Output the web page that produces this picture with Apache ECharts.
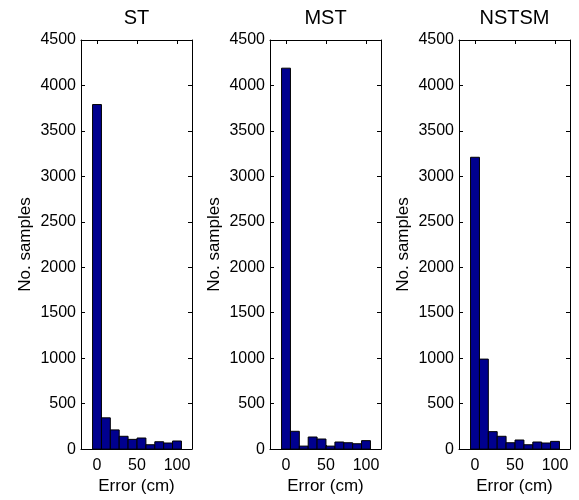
<!DOCTYPE html>
<html>
<head>
<meta charset="utf-8">
<script src="https://cdn.jsdelivr.net/npm/echarts@6/dist/echarts.min.js"></script>
<style>html,body{margin:0;padding:0;background:#fff}#c{width:579px;height:500px}</style>
</head>
<body>
<div id="c"></div>
<script>
const binCenters = [0, 11.1, 22.2, 33.3, 44.4, 55.6, 66.7, 77.8, 88.9, 100];
const binWidth = 11.1;
const stCounts = [3790, 344, 211, 141, 107, 122, 48, 81, 67, 89];
const mstCounts = [4190, 196, 33, 133, 111, 33, 78, 70, 59, 93];
const nstsmCounts = [3210, 990, 192, 141, 70, 100, 48, 78, 67, 85];
const panelTitles = ['ST', 'MST', 'NSTSM'];
const xTickValues = [0, 50, 100];
const yMax = 4500, yInterval = 500;
const xLabel = 'Error (cm)';
const yLabel = 'No. samples';

const panels = [stCounts, mstCounts, nstsmCounts];
const FONT = 'Liberation Sans, Arial, Helvetica, sans-serif';
const gridLefts = [81, 270, 459];
const gridW = 111, gridTop = 40, gridH = 410;
const xMin = -20, xMax = 118.75;

const grids = [], xAxes = [], yAxes = [], series = [], graphics = [];
panels.forEach((counts, i) => {
  grids.push({left: gridLefts[i], top: gridTop, width: gridW, height: gridH, containLabel: false});
  const line = {show: true, onZero: false, lineStyle: {color: '#000', width: 1}};
  xAxes.push({
    type: 'value', gridIndex: i, position: 'bottom', min: xMin, max: xMax,
    axisLine: line, splitLine: {show: false},
    axisTick: {show: true, inside: true, length: 4, customValues: xTickValues, lineStyle: {color: '#000'}},
    axisLabel: {show: true, customValues: xTickValues, color: '#000', fontSize: 16, fontFamily: FONT, margin: 8,
      formatter: v => String(v)},
    name: xLabel, nameLocation: 'middle', nameGap: 25,
    nameTextStyle: {color: '#000', fontSize: 17, fontFamily: FONT}
  });
  xAxes.push({
    type: 'value', gridIndex: i, position: 'top', min: xMin, max: xMax,
    axisLine: line, splitLine: {show: false},
    axisTick: {show: true, inside: true, length: 4, customValues: xTickValues, lineStyle: {color: '#000'}},
    axisLabel: {show: false}
  });
  yAxes.push({
    type: 'value', gridIndex: i, position: 'left', min: 0, max: yMax, interval: yInterval,
    axisLine: line, splitLine: {show: false},
    axisTick: {show: true, inside: true, length: 4, lineStyle: {color: '#000'}},
    axisLabel: {color: '#000', fontSize: 16, fontFamily: FONT, margin: 5, formatter: v => String(v)},
    name: yLabel, nameLocation: 'middle', nameGap: 47, nameRotate: 90,
    nameTextStyle: {color: '#000', fontSize: 17, fontFamily: FONT}
  });
  yAxes.push({
    type: 'value', gridIndex: i, position: 'right', min: 0, max: yMax, interval: yInterval,
    axisLine: line, splitLine: {show: false},
    axisTick: {show: true, inside: true, length: 4, lineStyle: {color: '#000'}},
    axisLabel: {show: false}
  });
  series.push({
    type: 'custom', xAxisIndex: i * 2, yAxisIndex: i * 2,
    data: binCenters.map((c, k) => [c, counts[k]]),
    encode: {x: 0, y: 1},
    renderItem: function (params, api) {
      const c = api.value(0), v = api.value(1);
      const p0 = api.coord([c - binWidth / 2, v]);
      const p1 = api.coord([c + binWidth / 2, 0]);
      return {
        type: 'rect',
        shape: {x: p0[0], y: p0[1], width: p1[0] - p0[0], height: p1[1] - p0[1]},
        style: {fill: '#00008F', stroke: '#000', lineWidth: 1}
      };
    }
  });
  graphics.push({
    type: 'text', x: gridLefts[i] + gridW / 2, y: 18,
    style: {text: panelTitles[i], textAlign: 'center', textVerticalAlign: 'middle', fontSize: 20, fontFamily: FONT, fill: '#000'}
  });
});

const chart = echarts.init(document.getElementById('c'), null, {renderer: 'canvas'});
chart.setOption({
  animation: false,
  backgroundColor: '#fff',
  grid: grids, xAxis: xAxes, yAxis: yAxes, series: series, graphic: graphics
});
</script>
</body>
</html>
